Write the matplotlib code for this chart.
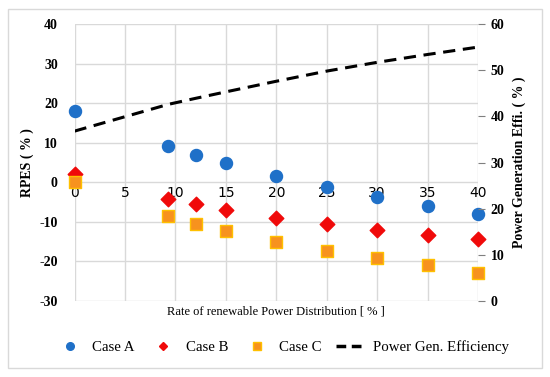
#!/usr/bin/env python3
import matplotlib

matplotlib.use("Agg")
import matplotlib.pyplot as plt
from matplotlib.lines import Line2D
from matplotlib.patches import Rectangle

# Data.
RATE = [0, 9.3, 12, 15, 20, 25, 30, 35, 40]
CASE_A = [18.0, 9.2, 7.0, 5.0, 1.6, -1.1, -3.6, -5.9, -7.9]
CASE_B = [2.0, -4.2, -5.6, -7.1, -9.1, -10.6, -12.1, -13.4, -14.3]
CASE_C = [0.0, -8.5, -10.5, -12.4, -15.1, -17.3, -19.2, -21.0, -23.0]
EFFICIENCY = [36.8, 42.6, 43.9, 45.3, 47.6, 49.8, 51.7, 53.4, 55.0]

X_TICKS = [0, 5, 10, 15, 20, 25, 30, 35, 40]
Y_TICKS = [-30, -20, -10, 0, 10, 20, 30, 40]
Y2_TICKS = [0, 10, 20, 30, 40, 50, 60]

SERIF = "Liberation Serif"
GRID = "#d9d9d9"
BLUE = "#1f70c8"
RED = "#f00a0a"
ORANGE = "#f7921e"


def main():
    fig = plt.figure(figsize=(5.5, 3.77), dpi=100)
    fig.patches.append(Rectangle((8 / 550, 9 / 377), 534 / 550, 359 / 377,
                                 transform=fig.transFigure, fill=False,
                                 edgecolor="#d9d9d9", linewidth=1.0))

    ax = fig.add_axes([0.1355, 0.2016, 0.7336, 0.7347])
    ax2 = ax.twinx()

    ax.set_xlim(0, 40)
    ax.set_ylim(-30, 40)
    ax2.set_ylim(0, 60)

    for x in X_TICKS:
        ax.axvline(x, color=GRID, linewidth=1.0, zorder=0)
    for y in Y_TICKS:
        ax.axhline(y, color=GRID, linewidth=1.0, zorder=0)

    for a in (ax, ax2):
        for s in a.spines.values():
            s.set_visible(False)

    ax.scatter(RATE, CASE_A, s=75, marker="o", color=BLUE, zorder=4, clip_on=False)
    ax.scatter(RATE, CASE_B, s=55, marker="D", color=RED, zorder=4, clip_on=False)
    ax.scatter(RATE, CASE_C, s=80, marker="s", color=ORANGE, edgecolors="#ffc000",
               linewidths=1.0, zorder=4, clip_on=False)
    ax2.plot(RATE, EFFICIENCY, color="black", linestyle=(0, (4, 2.5)), linewidth=2.2,
             zorder=3)

    tick_font = dict(family=SERIF, weight="bold", size=10)
    ax.set_xticks(X_TICKS)
    ax.set_xticklabels([str(v) for v in X_TICKS], **tick_font)
    ax.spines["bottom"].set_position(("data", 0))
    ax.tick_params(axis="x", length=0, pad=3)
    ax.set_yticks(Y_TICKS)
    ax.set_yticklabels([str(v) for v in Y_TICKS], **tick_font)
    ax.tick_params(axis="y", length=0, pad=12)
    ax2.set_yticks(Y2_TICKS)
    ax2.set_yticklabels([str(v) for v in Y2_TICKS], **tick_font)
    ax2.tick_params(axis="y", length=5, color="#7f7f7f", pad=4)

    ax.set_ylabel("RPES ( % )", family=SERIF, weight="bold", size=10, labelpad=4)
    ax2.set_ylabel("Power Generation Effi. ( % )", family=SERIF, weight="bold", size=10,
                   labelpad=6)
    fig.text(276 / 550, 1 - 312 / 377, "Rate of renewable Power Distribution [ % ]",
             family=SERIF, size=9, ha="center", va="center")

    handles = [
        Line2D([], [], marker="o", color=BLUE, linestyle="none", markersize=5.5),
        Line2D([], [], marker="D", color=RED, linestyle="none", markersize=4.5),
        Line2D([], [], marker="s", color=ORANGE, markeredgecolor="#ffc000",
               linestyle="none", markersize=5.5),
        Line2D([], [], color="black", linestyle=(0, (2.8, 1.6)), linewidth=2.5),
    ]
    labels = ["Case A", "Case B", "Case C", "Power Gen. Efficiency"]
    fig.legend(handles, labels, loc="center", bbox_to_anchor=(282 / 550, 1 - 347 / 377),
               ncol=4, frameon=False, prop=dict(family=SERIF, size=10.7),
               handlelength=2.0, columnspacing=0.95, handletextpad=0.5,
               borderpad=0.2)

    fig.savefig("out.png", dpi=100)


if __name__ == "__main__":
    main()
